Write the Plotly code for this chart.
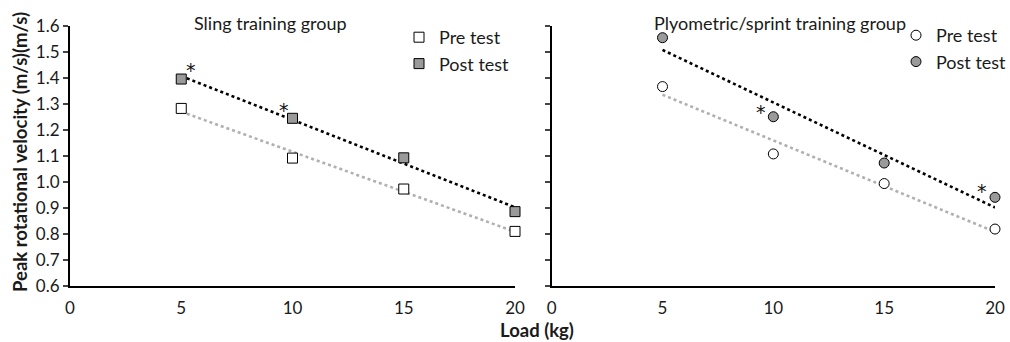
import numpy as np
import plotly.graph_objects as go

loads = [5, 10, 15, 20]
sling_pre = [1.283, 1.092, 0.973, 0.810]
sling_post = [1.396, 1.245, 1.093, 0.886]
plyo_pre = [1.367, 1.108, 0.994, 0.819]
plyo_post = [1.555, 1.251, 1.073, 0.941]

sling_stars_x = [5.45, 9.6]
sling_stars_y = [1.445, 1.292]
plyo_stars_x = [9.45, 19.4]
plyo_stars_y = [1.283, 0.98]

x_ticks = [0, 5, 10, 15, 20]
y_ticks = [0.6, 0.7, 0.8, 0.9, 1.0, 1.1, 1.2, 1.3, 1.4, 1.5, 1.6]

FONT = "Lato"
TXT = "#1a1a1a"
W, H = 1010, 342

def fit(xs, ys):
    m, b = np.polyfit(xs, ys, 1)
    xx = np.array([min(xs), max(xs)])
    return xx, m * xx + b

fig = go.Figure()

def add_group(pre, post, symbol, xa, ya, legend, size):
    for ys, col in [(pre, "#b0b0b0"), (post, "#000000")]:
        xx, yy = fit(loads, ys)
        fig.add_trace(go.Scatter(x=xx, y=yy, mode="lines", xaxis=xa, yaxis=ya,
                                 line=dict(color=col, width=2.6, dash="dot"),
                                 showlegend=False, hoverinfo="skip"))
    fig.add_trace(go.Scatter(x=loads, y=pre, mode="markers", name="Pre test",
                             xaxis=xa, yaxis=ya, legend=legend, cliponaxis=False,
                             marker=dict(symbol=symbol, size=size, color="white",
                                         line=dict(color="black", width=1))))
    fig.add_trace(go.Scatter(x=loads, y=post, mode="markers", name="Post test",
                             xaxis=xa, yaxis=ya, legend=legend, cliponaxis=False,
                             marker=dict(symbol=symbol, size=size, color="#9a9a9a",
                                         line=dict(color="black", width=1))))

add_group(sling_pre, sling_post, "square", "x", "y", "legend", 10)
add_group(plyo_pre, plyo_post, "circle", "x2", "y2", "legend2", 10)

ydom = [1 - 286 / H, 1 - 26 / H]
axis_common = dict(showline=True, linecolor="black", linewidth=2, showgrid=False,
                   zeroline=False, tickfont=dict(family=FONT, size=17, color=TXT))

fig.update_layout(
    width=W, height=H, margin=dict(l=0, r=0, t=0, b=0, autoexpand=False),
    plot_bgcolor="white", paper_bgcolor="white",
    font=dict(family=FONT, color=TXT),
    xaxis=dict(domain=[70 / W, 515 / W], range=[0, 20], tickvals=x_ticks, ticks="",
               anchor="y", ticklabelstandoff=6, automargin=False, **axis_common),
    xaxis2=dict(domain=[551.7 / W, 995 / W], range=[0, 20], tickvals=x_ticks, ticks="",
                anchor="y2", ticklabelstandoff=6, automargin=False, **axis_common),
    yaxis=dict(domain=ydom, range=[0.6, 1.6], tickvals=y_ticks, tickformat=".1f",
               ticks="outside", ticklen=5, tickwidth=1.5, anchor="x", automargin=False,
               **axis_common),
    yaxis2=dict(domain=ydom, range=[0.6, 1.6], tickvals=y_ticks, showticklabels=False,
                ticks="outside", ticklen=5, tickwidth=1.5, anchor="x2", automargin=False,
                **axis_common),
    legend=dict(x=399 / W, y=1 - 19 / H, xanchor="left", yanchor="top",
                bgcolor="rgba(0,0,0,0)", font=dict(family=FONT, size=18, color=TXT),
                tracegroupgap=0, itemwidth=30),
    legend2=dict(x=896 / W, y=1 - 17 / H, xanchor="left", yanchor="top",
                 bgcolor="rgba(0,0,0,0)", font=dict(family=FONT, size=18, color=TXT),
                 tracegroupgap=0, itemwidth=30),
)

ann = []
for xs, ys, xa, ya in [(sling_stars_x, sling_stars_y, "x", "y"),
                       (plyo_stars_x, plyo_stars_y, "x2", "y2")]:
    for sx, sy in zip(xs, ys):
        ann.append(dict(x=sx, y=sy, xref=xa, yref=ya, text="*", showarrow=False,
                        xanchor="center", yanchor="middle", yshift=-4,
                        font=dict(family="DejaVu Sans", size=19, color="#111")))
ann.append(dict(x=270 / W, y=1 - 23 / H, xref="paper", yref="paper",
                xanchor="center", yanchor="middle",
                text="Sling training group", showarrow=False,
                font=dict(family=FONT, size=18, color=TXT)))
ann.append(dict(x=780 / W, y=1 - 23 / H, xref="paper", yref="paper",
                xanchor="center", yanchor="middle",
                text="Plyometric/sprint training group", showarrow=False,
                font=dict(family=FONT, size=18, color=TXT)))
ann.append(dict(x=537 / W, y=1 - 330 / H, xref="paper", yref="paper",
                xanchor="center", yanchor="middle",
                text="<b>Load (kg)</b>", showarrow=False,
                font=dict(family=FONT, size=18.5, color=TXT)))
ann.append(dict(x=20 / W, y=1 - 152 / H, xref="paper", yref="paper",
                xanchor="center", yanchor="middle",
                text="<b>Peak rotational velocity (m/s)(m/s)</b>", textangle=-90,
                showarrow=False, font=dict(family=FONT, size=18.5, color=TXT)))
fig.update_layout(annotations=ann)

fig.write_html("out.html")
